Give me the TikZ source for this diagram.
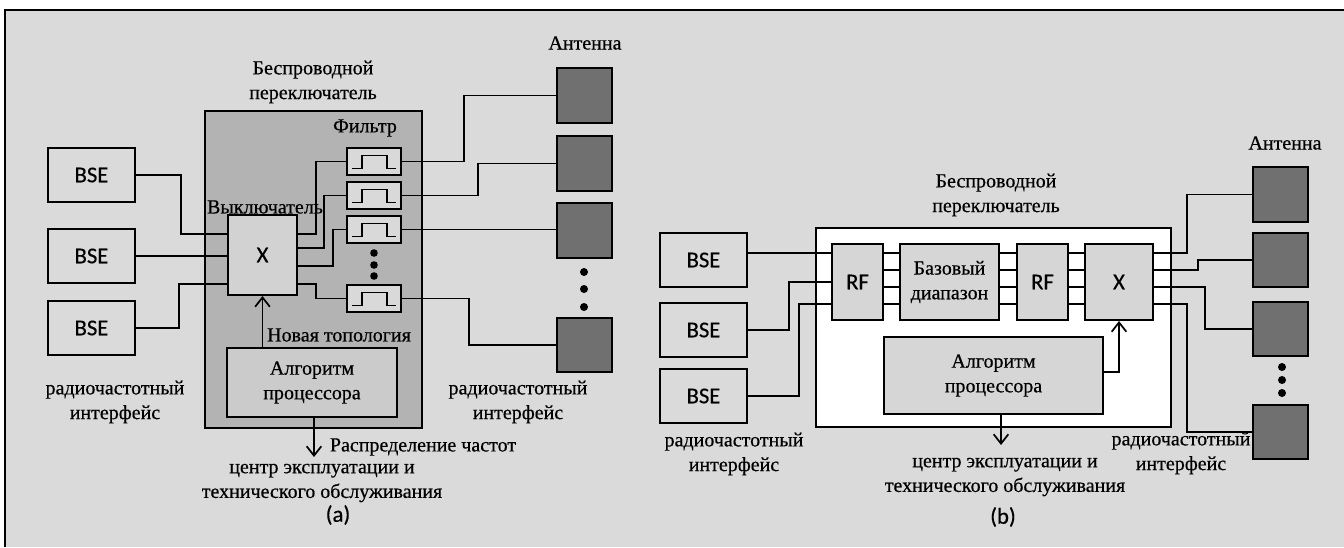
\documentclass[tikz,border=0pt]{standalone}
\usepackage{fontspec}
\setmainfont{Liberation Serif}
\newfontface\lbf{Liberation Serif}[FakeBold=0.5]
\newfontface\carl{Carlito}[FakeBold=0.4]
\usetikzlibrary{arrows.meta,fit}
\definecolor{bg}{HTML}{DADADA}
\definecolor{swagray}{HTML}{B3B3B3}
\definecolor{xafill}{HTML}{D2D2D2}
\definecolor{filtfill}{HTML}{D9D9D9}
\definecolor{algoafill}{HTML}{CBCBCB}
\definecolor{antfill}{HTML}{707070}
\definecolor{blkfill}{HTML}{D6D6D6}
\begin{document}
\begin{tikzpicture}[x=0.75pt,y=-0.75pt,line width=1.3pt,
  lbl/.style={font=\lbf\fontsize{15}{18.5}\selectfont, align=center, inner sep=0pt},
  sanslbl/.style={font=\carl\fontsize{17}{20}\selectfont, inner sep=0pt},
  boxbase/.style={draw=black, line width=1.5pt, inner sep=0pt},
  bsebox/.style={boxbase, fill=bg},
  antbox/.style={boxbase, fill=antfill},
  filtbox/.style={boxbase, fill=filtfill},
  arr/.style={-{Straight Barb[length=7pt,width=11pt]}},
  pulse/.pic={\draw[line width=1.1pt] (-22,7) -- (-12,7) -- (-12,-6) -- (13,-6) -- (13,7) -- (22,7);}
]
\useasboundingbox (0,0) rectangle (1344,547);
% frame
\fill[white] (0,0) rectangle (1344,547);
\fill[bg] (5,10) rectangle (1344,547);
\draw[line width=1.6pt] (5,547) -- (5,10) -- (1344,10);

% ===================== (a) =====================
\node[boxbase, fill=swagray, fit={(205,111)(422,428)}] (swa) {};
\node[lbl] (tita) at (313,82) {Беспроводной\\переключатель};
\node[lbl] (filt) at (365,128) {Фильтр};
\node[lbl] (vykl) at (265,207) {Выключатель};
\node[lbl] (nt) at (339,335) {Новая топология};

\node[bsebox, fit={(48,148)(135,202)}] (a1) {};
\node[bsebox, fit={(48,229)(135,283)}] (a2) {};
\node[bsebox, fit={(48,301)(135,355)}] (a3) {};
\foreach \b in {a1,a2,a3} \node[sanslbl] at (\b.center) {BSE};

\node[boxbase, fill=xafill, fit={(228,215)(297,295)}] (xa) {};
\node[sanslbl] at (xa.center) {X};

\node[filtbox, fit={(347,148)(401,175)}] (f1) {};
\node[filtbox, fit={(347,182)(401,209)}] (f2) {};
\node[filtbox, fit={(347,216)(401,243)}] (f3) {};
\node[filtbox, fit={(347,285)(401,312)}] (f4) {};
\foreach \f in {f1,f2,f3,f4} \pic at (\f.center) {pulse};
\foreach \y in {253,265,276} \fill (374,\y) circle[radius=3.8];

\node[boxbase, fill=algoafill, fit={(227,348)(397,417)}] (algoa) {};
\node[lbl] at (algoa.center) {Алгоритм\\процессора};

\node[antbox, fit={(557,68)(612,123)}] (an1) {};
\node[antbox, fit={(557,136)(612,191)}] (an2) {};
\node[antbox, fit={(557,203)(612,258)}] (an3) {};
\node[antbox, fit={(557,318)(612,372)}] (an4) {};
\foreach \y in {272,289,307} \fill (584,\y) circle[radius=4];
\node[lbl] (anta) at (585,43) {Антенна};

\draw (a1.east) -- ++(45,0) |- (xa.west |- 0,234);
\draw (a2.east) -- (xa.west |- a2.east);
\draw (a3.east) -- ++(43,0) |- (xa.west |- 0,284);

\draw (xa.east |- 0,234) -- ++(18,0) |- (f1.west);
\draw (xa.east |- 0,248) -- ++(26,0) |- (f2.west);
\draw (xa.east |- 0,266) -- ++(35,0) |- (f3.west);
\draw (xa.east |- 0,284) -- ++(18,0) |- (f4.west);

\draw (f1.east) -- ++(62,0) |- (an1.west);
\draw (f2.east) -- ++(76,0) |- (an2.west);
\draw (f3.east) -- (an3.west |- f3.east);
\draw (f4.east) -- ++(67,0) |- (an4.west);

\draw[arr] (algoa.north -| xa.south) -- (xa.south);
\coordinate (oma) at (314,457);
\draw[arr] (algoa.south -| oma) -- (oma);

\node[lbl] (rp) at (423,447) {Распределение частот};
\node[lbl] (cea) at (322,483) {центр эксплуатации и\\технического обслуживания};
\node[sanslbl] (capa) at (338,515) {(a)};
\node[lbl] (rfla) at (115,402) {радиочастотный\\интерфейс};
\node[lbl] (rfra) at (518,402) {радиочастотный\\интерфейс};

% ===================== (b) =====================
\node[boxbase, fill=white, fit={(816,228)(1171,427)}] (swb) {};
\node[lbl] (titb) at (996,195) {Беспроводной\\переключатель};

\node[bsebox, fit={(660,233)(747,287)}] (b1) {};
\node[bsebox, fit={(660,303)(747,357)}] (b2) {};
\node[bsebox, fit={(660,369)(747,423)}] (b3) {};
\foreach \b in {b1,b2,b3} \node[sanslbl] at (\b.center) {BSE};

\node[boxbase, fill=blkfill, fit={(832,244)(883,320)}] (rf1) {};
\node[sanslbl] at (rf1.center) {RF};
\node[boxbase, fill=blkfill, fit={(900,244)(999,320)}] (base) {};
\node[lbl] at (base.center) {Базовый\\диапазон};
\node[boxbase, fill=blkfill, fit={(1017,244)(1068,320)}] (rf2) {};
\node[sanslbl] at (rf2.center) {RF};
\node[boxbase, fill=blkfill, fit={(1085,244)(1153,320)}] (xb) {};
\node[sanslbl] at (xb.center) {X};
\node[boxbase, fill=blkfill, fit={(884,337)(1103,414)}] (algob) {};
\node[lbl] at (algob.center) {Алгоритм\\процессора};

\node[antbox, fit={(1253,167)(1308,222)}] (bn1) {};
\node[antbox, fit={(1253,233)(1308,287)}] (bn2) {};
\node[antbox, fit={(1253,302)(1308,356)}] (bn3) {};
\node[antbox, fit={(1253,405)(1308,459)}] (bn4) {};
\foreach \y in {367,380,393} \fill (1282,\y) circle[radius=4];
\node[lbl] (antb) at (1285,143) {Антенна};

\draw (b1.east |- 0,253) -- (rf1.west |- 0,253);
\draw (b2.east) -- ++(41,0) |- (rf1.west |- 0,282);
\draw (b3.east) -- ++(51,0) |- (rf1.west |- 0,304);

\foreach \y in {253,270,287,304} {
  \draw (rf1.east |- 0,\y) -- (base.west |- 0,\y);
  \draw (base.east |- 0,\y) -- (rf2.west |- 0,\y);
  \draw (rf2.east |- 0,\y) -- (xb.west |- 0,\y);
}

\draw (xb.east |- 0,253) -- ++(33,0) |- (bn1.west);
\draw (xb.east |- 0,270) -- ++(44,0) |- (bn2.west);
\draw (xb.east |- 0,287) -- ++(51,0) |- (bn3.west);
\draw (xb.east |- 0,304) -- ++(33,0) |- (bn4.west);

\draw[arr] (algob.east |- 0,372) -| (xb.south);
\coordinate (omb) at (1001,445);
\draw[arr] (algob.south -| omb) -- (omb);

\node[lbl] (ceb) at (1005,477) {центр эксплуатации и\\технического обслуживания};
\node[sanslbl] (capb) at (1003,517) {(b)};
\node[lbl] (rflb) at (734,454) {радиочастотный\\интерфейс};
\node[lbl] (rfrb) at (1181,453) {радиочастотный\\интерфейс};
\end{tikzpicture}
\end{document}
